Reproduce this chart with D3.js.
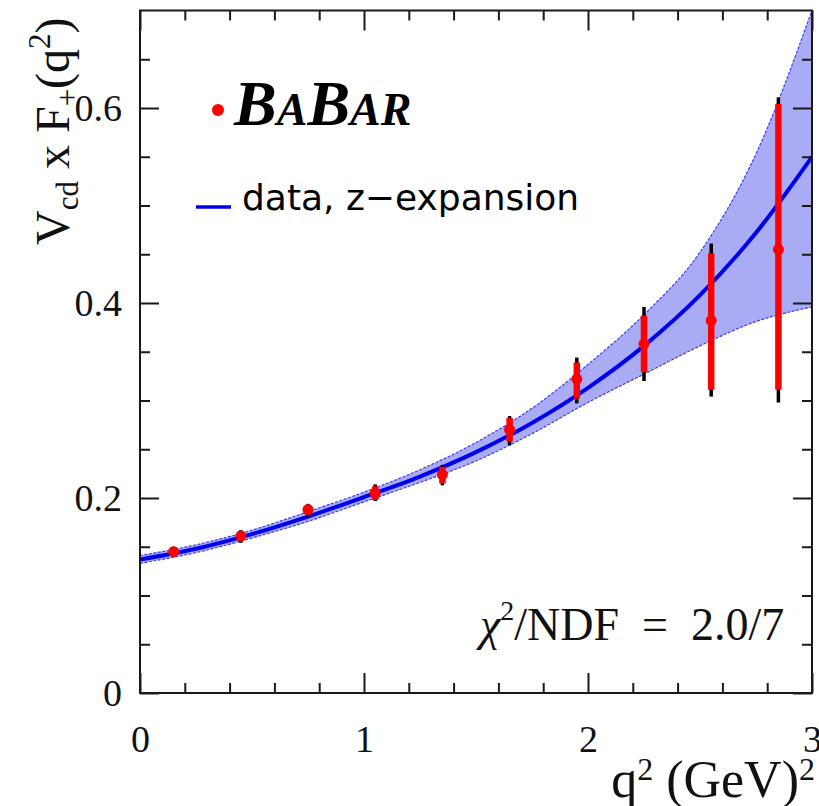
<!DOCTYPE html>
<html>
<head>
<meta charset="utf-8">
<script src="https://cdn.jsdelivr.net/npm/d3@7"></script>
<style>
  body { margin: 0; background: #fff; }
  svg { display: block; }
</style>
</head>
<body>
<svg id="chart" width="819" height="806"></svg>
<script>
// q^2 bin centres (GeV^2) and measured Vcd x F+(q^2)
const q2Bins   = [0.15, 0.45, 0.75, 1.05, 1.35, 1.65, 1.95, 2.25, 2.55, 2.85];
const ffValues = [0.145, 0.161, 0.188, 0.205, 0.224, 0.270, 0.322, 0.358, 0.382, 0.455];
// statistical error range (inner, red)
const statLow  = [0.141, 0.156, 0.183, 0.198, 0.215, 0.258, 0.302, 0.329, 0.311, 0.311];
const statHigh = [0.149, 0.166, 0.193, 0.212, 0.232, 0.282, 0.339, 0.387, 0.451, 0.604];
// total error range (outer, black)
const totLow   = [0.140, 0.154, 0.181, 0.197, 0.213, 0.254, 0.297, 0.320, 0.304, 0.298];
const totHigh  = [0.150, 0.167, 0.194, 0.214, 0.234, 0.284, 0.344, 0.396, 0.461, 0.611];

// z-expansion fit: central curve and its uncertainty band
const fitQ2     = [0, 0.25, 0.5, 0.75, 1.0, 1.25, 1.5, 1.75, 2.0, 2.25, 2.5, 2.75, 3.0];
const fitCentre = [0.137, 0.148, 0.163, 0.181, 0.201, 0.222, 0.247, 0.277, 0.313, 0.356, 0.408, 0.472, 0.550];
const fitUpper  = [0.141, 0.152, 0.167, 0.186, 0.206, 0.229, 0.257, 0.292, 0.337, 0.388, 0.452, 0.553, 0.700];
const fitLower  = [0.133, 0.144, 0.159, 0.176, 0.196, 0.216, 0.238, 0.266, 0.298, 0.327, 0.356, 0.381, 0.396];

// axis ticks
const xMajor = [0, 1, 2, 3];
const xMinor = [0.2, 0.4, 0.6, 0.8, 1.2, 1.4, 1.6, 1.8, 2.2, 2.4, 2.6, 2.8];
const yMajor = [0, 0.2, 0.4, 0.6];
const yMinor = [0.05, 0.1, 0.15, 0.25, 0.3, 0.35, 0.45, 0.5, 0.55, 0.65];

const serif = "'Liberation Serif', 'Times New Roman', serif";
const svg = d3.select("#chart");

const frameLeft = 140, frameRight = 812, frameTop = 10.5, frameBottom = 693;
const x = d3.scaleLinear().domain([0, 3]).range([frameLeft, frameRight]);
const y = d3.scaleLinear().domain([0, 0.7]).range([frameBottom, frameTop]);

svg.append("defs").append("clipPath").attr("id", "plotClip")
  .append("rect").attr("x", frameLeft).attr("y", frameTop)
  .attr("width", frameRight - frameLeft).attr("height", frameBottom - frameTop);

const plot = svg.append("g").attr("clip-path", "url(#plotClip)");

// uncertainty band
const fitRows = fitQ2.map((q, i) => ({ q, c: fitCentre[i], hi: fitUpper[i], lo: fitLower[i] }));
const curve = d3.curveMonotoneX;
plot.append("path")
  .datum(fitRows)
  .attr("d", d3.area().x(d => x(d.q)).y0(d => y(d.lo)).y1(d => y(d.hi)).curve(curve))
  .attr("fill", "#aaabf5");
["hi", "lo"].forEach(k => {
  plot.append("path")
    .datum(fitRows)
    .attr("d", d3.line().x(d => x(d.q)).y(d => y(d[k])).curve(curve))
    .attr("fill", "none")
    .attr("stroke", "#3b3bff")
    .attr("stroke-width", 1.2)
    .attr("stroke-dasharray", "3,1.5");
});

// central fit curve
plot.append("path")
  .datum(fitRows)
  .attr("d", d3.line().x(d => x(d.q)).y(d => y(d.c)).curve(curve))
  .attr("fill", "none")
  .attr("stroke", "#0000f0")
  .attr("stroke-width", 4);

// data points with total (black) and statistical (red) errors
const points = q2Bins.map((q, i) => ({
  q, v: ffValues[i], sLo: statLow[i], sHi: statHigh[i], tLo: totLow[i], tHi: totHigh[i]
}));
const pts = plot.append("g");
pts.selectAll("line.tot").data(points).join("line")
  .attr("class", "tot")
  .attr("x1", d => x(d.q)).attr("x2", d => x(d.q))
  .attr("y1", d => y(d.tLo)).attr("y2", d => y(d.tHi))
  .attr("stroke", "#000").attr("stroke-width", 3.5);
pts.selectAll("line.stat").data(points).join("line")
  .attr("class", "stat")
  .attr("x1", d => x(d.q)).attr("x2", d => x(d.q))
  .attr("y1", d => y(d.sLo)).attr("y2", d => y(d.sHi))
  .attr("stroke", "#ff0000").attr("stroke-width", 6.5);
pts.selectAll("circle").data(points).join("circle")
  .attr("cx", d => x(d.q)).attr("cy", d => y(d.v))
  .attr("r", 5.5).attr("fill", "#ff0000");

// axes (ticks drawn inward on all four sides)
function styleAxis(g) {
  g.select(".domain").remove();
  g.selectAll(".tick line").attr("stroke", "#1a1a1a").attr("stroke-width", 2);
  g.selectAll(".tick text").attr("font-family", serif).attr("font-size", 38).attr("fill", "#111");
}
const fmtY = d => d === 0 ? "0" : d3.format(".1f")(d);

svg.append("g").attr("transform", `translate(0,${frameBottom})`)
  .call(d3.axisBottom(x).tickValues(xMajor).tickSizeInner(-20).tickSizeOuter(0).tickPadding(32).tickFormat(d3.format("d")))
  .call(styleAxis);
svg.append("g").attr("transform", `translate(0,${frameBottom})`)
  .call(d3.axisBottom(x).tickValues(xMinor).tickSize(-10).tickFormat(""))
  .call(styleAxis);
svg.append("g").attr("transform", `translate(0,${frameTop})`)
  .call(d3.axisTop(x).tickValues(xMajor).tickSize(-20).tickFormat(""))
  .call(styleAxis);
svg.append("g").attr("transform", `translate(0,${frameTop})`)
  .call(d3.axisTop(x).tickValues(xMinor).tickSize(-10).tickFormat(""))
  .call(styleAxis);

svg.append("g").attr("transform", `translate(${frameLeft},0)`)
  .call(d3.axisLeft(y).tickValues(yMajor).tickSizeInner(-19).tickSizeOuter(0).tickPadding(18).tickFormat(fmtY))
  .call(styleAxis);
svg.append("g").attr("transform", `translate(${frameLeft},0)`)
  .call(d3.axisLeft(y).tickValues(yMinor).tickSize(-10).tickFormat(""))
  .call(styleAxis);
svg.append("g").attr("transform", `translate(${frameRight},0)`)
  .call(d3.axisRight(y).tickValues(yMajor).tickSize(-19).tickFormat(""))
  .call(styleAxis);
svg.append("g").attr("transform", `translate(${frameRight},0)`)
  .call(d3.axisRight(y).tickValues(yMinor).tickSize(-10).tickFormat(""))
  .call(styleAxis);

// frame
svg.append("rect")
  .attr("x", frameLeft).attr("y", frameTop)
  .attr("width", frameRight - frameLeft).attr("height", frameBottom - frameTop)
  .attr("fill", "none").attr("stroke", "#1a1a1a").attr("stroke-width", 2);

// axis titles
const yTitle = svg.append("text")
  .attr("transform", "translate(69,245) rotate(-90)")
  .attr("font-family", serif).attr("font-size", 48).attr("fill", "#111");
yTitle.append("tspan").text("V");
yTitle.append("tspan").attr("font-size", 31).attr("dy", 9).text("cd");
yTitle.append("tspan").attr("dy", -9).text(" x F");
yTitle.append("tspan").attr("font-size", 31).attr("dy", 9).text("+");
yTitle.append("tspan").attr("dy", -9).text("(q");
yTitle.append("tspan").attr("font-size", 31).attr("dy", -19).text("2");
yTitle.append("tspan").attr("dy", 19).text(")");

const xTitle = svg.append("text")
  .attr("x", 815).attr("y", 797).attr("text-anchor", "end")
  .attr("font-family", serif).attr("font-size", 52).attr("fill", "#111");
xTitle.append("tspan").text("q");
xTitle.append("tspan").attr("font-size", 32).attr("dy", -17).text("2");
xTitle.append("tspan").attr("dy", 17).text(" (GeV)");
xTitle.append("tspan").attr("font-size", 32).attr("dy", -17).text("2");

// legend
svg.append("circle").attr("cx", 218).attr("cy", 110).attr("r", 6).attr("fill", "#ff0000");
const logo = svg.append("text")
  .attr("x", 234).attr("y", 125)
  .attr("font-family", serif).attr("font-weight", "bold").attr("font-style", "italic")
  .attr("fill", "#000");
logo.append("tspan").attr("font-size", 64).text("B");
logo.append("tspan").attr("font-size", 46).text("A");
logo.append("tspan").attr("font-size", 64).text("B");
logo.append("tspan").attr("font-size", 46).text("AR");

svg.append("line")
  .attr("x1", 196).attr("x2", 231).attr("y1", 207).attr("y2", 207)
  .attr("stroke", "#0000f0").attr("stroke-width", 3.5);
svg.append("text")
  .attr("x", 242).attr("y", 210)
  .attr("font-family", "'DejaVu Sans', sans-serif").attr("font-size", 36).attr("fill", "#000")
  .text("data, z\u2212expansion");

// fit quality
const chi = svg.append("text")
  .attr("x", 480).attr("y", 640)
  .attr("font-family", serif).attr("font-size", 46).attr("fill", "#111");
chi.append("tspan").attr("font-style", "italic").text("\u03c7");
chi.append("tspan").attr("font-size", 28).attr("dy", -20).text("2");
chi.append("tspan").attr("dy", 20).text("/NDF\u2002=\u20022.0/7");
</script>
</body>
</html>
